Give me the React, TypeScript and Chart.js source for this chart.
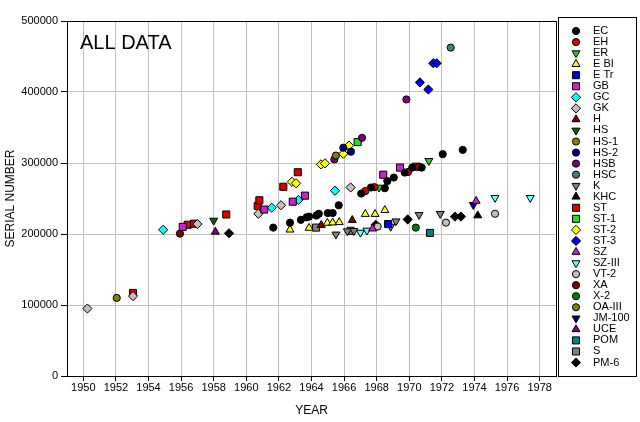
import React, { useEffect, useRef } from 'react';
import { Chart, registerables } from 'chart.js';
import { drawPoint } from 'chart.js/helpers';

Chart.register(...registerables);

const FONT = '"Liberation Sans", Arial, sans-serif';

const yearTicks = [1950, 1952, 1954, 1956, 1958, 1960, 1962, 1964, 1966, 1968, 1970, 1972, 1974, 1976, 1978];
const serialTicks = [0, 100000, 200000, 300000, 400000, 500000];

// [year, serial number]
const EC = [[1961.65, 209000], [1962.68, 216000], [1963.35, 220000], [1963.7, 223500], [1963.85, 224500], [1964.3, 226000], [1964.45, 228500], [1965.0, 229500], [1965.3, 229500], [1965.67, 240500], [1967.05, 257000], [1967.65, 265500], [1968.5, 264500], [1968.65, 274500], [1969.05, 279500], [1969.72, 286500], [1970.18, 293500], [1970.76, 293500], [1972.05, 312500], [1973.28, 318500]];
const EH = [[1967.3, 260500], [1967.86, 266000], [1969.92, 287300], [1970.6, 294800]];
const ER = [[1968.14, 265500], [1971.2, 303000]];
const E_BI = [[1962.68, 206000], [1963.85, 208500], [1964.97, 215500], [1965.3, 216000], [1965.7, 216500], [1967.3, 228000], [1967.9, 228000], [1968.5, 233500]];
const E_TR = [[1968.7, 214000]];
const GB = [[1956.1, 210000], [1961.1, 234500], [1962.85, 245500], [1963.6, 254000], [1968.4, 283500], [1969.43, 293500]];
const GC = [[1954.9, 206000], [1961.56, 237000], [1963.2, 248000], [1965.44, 261000]];
const GK = [[1950.25, 95000], [1953.05, 112500], [1957.0, 214000], [1960.74, 228500], [1962.13, 240500], [1966.4, 265500]];
const H = [[1964.6, 212500], [1966.5, 219500]];
const HS = [[1958.0, 219000]];
const HS_1 = [[1965.5, 310500]];
const HS_2 = [[1965.95, 321500], [1966.42, 316000]];
const HSB = [[1965.4, 305000], [1967.1, 335500], [1969.82, 389500]];
const HSC = [[1972.54, 462500]];
const K = [[1965.5, 199500], [1966.2, 204000], [1966.6, 204500], [1968.86, 210500], [1969.18, 218000], [1970.6, 227000], [1971.9, 228500]];
const KHC = [[1974.2, 226000]];
const ST = [[1953.05, 117000], [1956.4, 213000], [1956.8, 214500], [1958.77, 227500], [1960.7, 239500], [1960.8, 247500], [1962.27, 266500], [1963.16, 287000], [1970.4, 294800]];
const ST_1 = [[1966.83, 329500]];
const ST_2 = [[1962.8, 273500], [1963.05, 271500], [1964.58, 298000], [1964.83, 299500], [1965.95, 313000], [1966.3, 324500]];
const ST_3 = [[1970.65, 413500], [1971.17, 403500], [1971.47, 440500], [1971.68, 440500]];
const SZ = [[1967.75, 207500], [1974.1, 246500]];
const SZ_III = [[1967.0, 202000], [1967.4, 205000], [1975.26, 251000], [1977.42, 251000]];
const VT_2 = [[1968.06, 210500], [1972.25, 216000], [1975.26, 228500]];
const XA = [[1955.93, 200500]];
const X_2 = [[1970.4, 209000]];
const OA_III = [[1952.05, 110000]];
const JM_100 = [[1973.93, 241000]];
const UCE = [[1958.1, 203000]];
const POM = [[1971.27, 201500]];
const S = [[1964.28, 209000], [1966.4, 204500]];
const PM_6 = [[1958.94, 201000], [1967.94, 213000], [1969.9, 220500], [1972.8, 224500], [1973.17, 224500]];

const seriesNames = ['EC', 'EH', 'ER', 'E BI', 'E Tr', 'GB', 'GC', 'GK', 'H', 'HS', 'HS-1', 'HS-2', 'HSB', 'HSC', 'K', 'KHC', 'ST', 'ST-1', 'ST-2', 'ST-3', 'SZ', 'SZ-III', 'VT-2', 'XA', 'X-2', 'OA-III', 'JM-100', 'UCE', 'POM', 'S', 'PM-6'];
const seriesData = [EC, EH, ER, E_BI, E_TR, GB, GC, GK, H, HS, HS_1, HS_2, HSB, HSC, K, KHC, ST, ST_1, ST_2, ST_3, SZ, SZ_III, VT_2, XA, X_2, OA_III, JM_100, UCE, POM, S, PM_6];

type Mk = { style: string; radius: number; rotation: number };
const CIR: Mk = { style: 'circle', radius: 3.6, rotation: 0 };
const TUP: Mk = { style: 'triangle', radius: 4.6, rotation: 0 };
const TDN: Mk = { style: 'triangle', radius: 4.6, rotation: 180 };
const SQR: Mk = { style: 'rect', radius: 5, rotation: 0 };
const DIA: Mk = { style: 'rectRot', radius: 4.6, rotation: 0 };

const seriesColors = ['#000000', '#dd0000', '#22cc22', '#ffff00', '#0000dd', '#cc22cc', '#00ffff', '#c0c0c0', '#800000', '#006600', '#808000', '#000080', '#800080', '#408080', '#808080', '#000000', '#dd0000', '#22dd22', '#ffff00', '#0000ee', '#cc22cc', '#66ffff', '#c0c0c0', '#800000', '#008000', '#808000', '#000080', '#800080', '#008080', '#808080', '#000000'];
const seriesMarkers = [CIR, CIR, TDN, TUP, SQR, SQR, DIA, DIA, TUP, TDN, CIR, CIR, CIR, CIR, TDN, TUP, SQR, SQR, DIA, DIA, TUP, TDN, CIR, CIR, CIR, CIR, TDN, TUP, SQR, SQR, DIA];

const decorPlugin = {
  id: 'decor',
  afterDraw(chart: any) {
    const { ctx, chartArea: a } = chart;
    ctx.save();
    ctx.strokeStyle = '#000';
    ctx.lineWidth = 1;
    const l = Math.round(a.left) + 0.5;
    const t = Math.round(a.top) + 0.5;
    const r = Math.round(a.right) + 0.5;
    const b = Math.round(a.bottom) + 0.5;
    ctx.strokeRect(l, t, r - l, b - t);

    ctx.fillStyle = '#000';
    ctx.font = '20px ' + FONT;
    ctx.textAlign = 'left';
    ctx.textBaseline = 'alphabetic';
    ctx.fillText('ALL DATA', 80, 49);

    // legend box
    ctx.strokeRect(558.5, 17.5, 78, 359);
    ctx.font = '11px ' + FONT;
    ctx.textBaseline = 'middle';
    seriesNames.forEach((name, i) => {
      const y = 31 + i * 11.05;
      const m = seriesMarkers[i];
      ctx.fillStyle = seriesColors[i];
      ctx.strokeStyle = '#000';
      ctx.lineWidth = 1;
      drawPoint(ctx, { pointStyle: m.style, radius: m.radius, rotation: m.rotation, borderWidth: 1 } as any, 576, y);
      ctx.fillStyle = '#000';
      ctx.fillText(name, 593, y);
    });
    ctx.restore();
  },
};

export default function App() {
  const ref = useRef<HTMLCanvasElement | null>(null);
  useEffect(() => {
    if (!ref.current) return;
    const datasets = seriesNames.map((name, i) => ({
      label: name,
      data: seriesData[i].map(([x, y]) => ({ x, y })),
      showLine: false,
      pointStyle: seriesMarkers[i].style as any,
      pointRadius: seriesMarkers[i].radius,
      pointRotation: seriesMarkers[i].rotation,
      pointBackgroundColor: seriesColors[i],
      pointBorderColor: '#000',
      pointBorderWidth: 1,
    }));
    const chart = new Chart(ref.current, {
      type: 'scatter',
      data: { datasets },
      options: {
        responsive: false,
        animation: false,
        events: [],
        layout: { padding: { top: 21, right: 84, left: 0, bottom: 0 } },
        plugins: { legend: { display: false }, tooltip: { enabled: false }, title: { display: false } },
        scales: {
          x: {
            type: 'linear',
            min: 1949,
            max: 1979,
            afterBuildTicks: (s: any) => { s.ticks = yearTicks.map((v) => ({ value: v })); },
            afterFit: (s: any) => { s.height = 46; },
            grid: { color: '#c0c0c0', tickColor: '#000', tickLength: 5, lineWidth: 1 },
            border: { display: false },
            ticks: { color: '#000', font: { family: FONT, size: 11 }, padding: 0, maxRotation: 0, autoSkip: false, callback: (v: any) => String(v) },
            title: { display: true, text: 'YEAR', color: '#000', font: { family: FONT, size: 12 }, padding: { top: 0, bottom: 4 } },
          },
          y: {
            type: 'linear',
            min: 0,
            max: 500000,
            afterBuildTicks: (s: any) => { s.ticks = serialTicks.map((v) => ({ value: v })); },
            afterFit: (s: any) => { s.width = 67; },
            grid: { color: '#c0c0c0', tickColor: '#000', tickLength: 6, lineWidth: 1 },
            border: { display: false },
            ticks: { color: '#000', font: { family: FONT, size: 11 }, padding: 3, callback: (v: any) => String(v) },
            title: { display: true, text: 'SERIAL NUMBER', color: '#000', font: { family: FONT, size: 12 }, padding: { top: 3, bottom: 0 } },
          },
        },
      },
      plugins: [decorPlugin],
    });
    return () => chart.destroy();
  }, []);
  return (
    <div style={{ position: 'absolute', left: 0, top: 0, width: 640, height: 422, background: '#fff' }}>
      <canvas ref={ref} width={640} height={422} style={{ display: 'block' }} />
    </div>
  );
}
